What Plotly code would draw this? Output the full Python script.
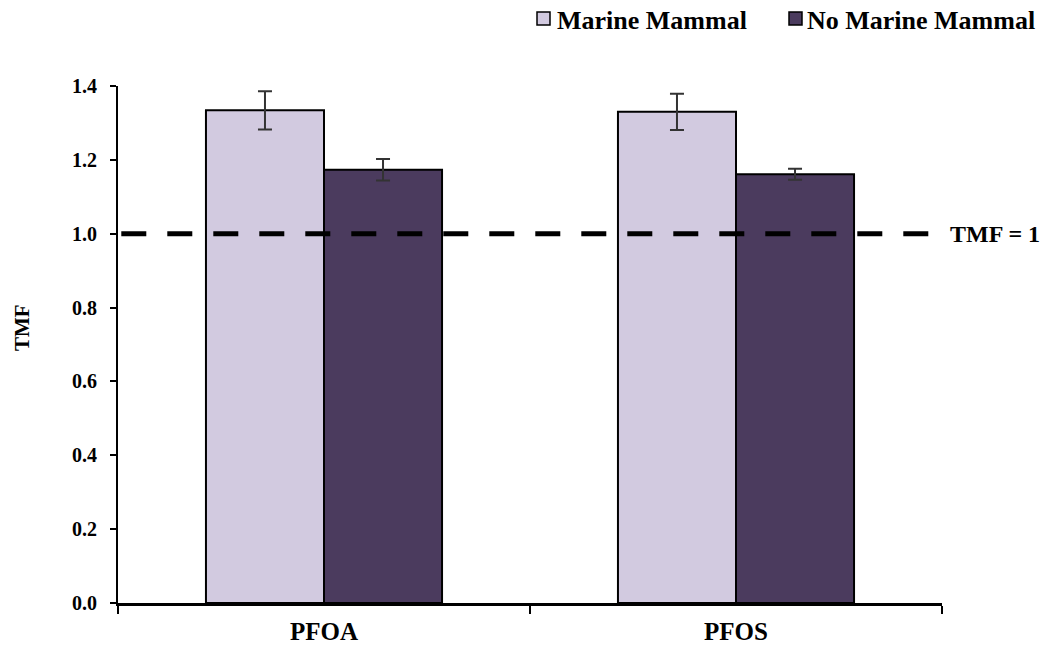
import plotly.graph_objects as go

# Data
compounds = ["PFOA", "PFOS"]
marine_mammal = [1.334, 1.330]
marine_mammal_err = [0.052, 0.049]
no_marine_mammal = [1.173, 1.161]
no_marine_mammal_err = [0.029, 0.015]
series_names = ["Marine Mammal", "No Marine Mammal"]
y_ticks = [0.0, 0.2, 0.4, 0.6, 0.8, 1.0, 1.2, 1.4]
reference_level = 1.0
reference_label = "TMF = 1"

LIGHT = "#D2CAE0"
DARK = "#4B3B5E"
FONT = "Liberation Serif"

W, H = 1051, 649
L, R, T, B = 118, 109, 86, 46
plot_w = W - L - R
plot_h = H - T - B


def px_x(px):
    return (px - L) / plot_w


def px_y(py):
    return (H - B - py) / plot_h


fig = go.Figure()
for name, vals, errs, color in [
    (series_names[0], marine_mammal, marine_mammal_err, LIGHT),
    (series_names[1], no_marine_mammal, no_marine_mammal_err, DARK),
]:
    fig.add_trace(go.Bar(
        name=name, x=compounds, y=vals,
        marker=dict(color=color, line=dict(color="black", width=2)),
        error_y=dict(type="data", array=errs, color="#333333", thickness=2, width=7),
        showlegend=False,
    ))

# Reference line at TMF = 1
fig.add_shape(type="line", xref="paper", yref="y", x0=0.004, x1=0.993,
              y0=reference_level, y1=reference_level,
              line=dict(color="black", width=5, dash="25px,21px"), layer="above")
fig.add_annotation(xref="paper", yref="y", x=px_x(948), y=reference_level,
                   text=f"<b>{reference_label}</b>", showarrow=False,
                   xanchor="left", yanchor="middle",
                   font=dict(family=FONT, size=24, color="black"))

# Axis title
fig.add_annotation(xref="paper", yref="paper", x=px_x(22), y=px_y(328),
                   text="<b>TMF</b>", showarrow=False, textangle=-90,
                   xanchor="center", yanchor="middle",
                   font=dict(family=FONT, size=21, color="black"))

# Legend: swatches and labels
legend_items = [(537, 555, series_names[0], LIGHT), (789, 805, series_names[1], DARK)]
for sq_x, txt_x, label, color in legend_items:
    fig.add_shape(type="rect", xref="paper", yref="paper",
                  x0=px_x(sq_x), x1=px_x(sq_x + 13), y0=px_y(12), y1=px_y(25),
                  fillcolor=color, line=dict(color="black", width=1.5))
    fig.add_annotation(xref="paper", yref="paper", x=px_x(txt_x), y=px_y(20),
                       text=f"<b>{label}</b>", showarrow=False,
                       xanchor="left", yanchor="middle",
                       font=dict(family=FONT, size=26, color="black"))

fig.update_layout(
    width=W, height=H,
    margin=dict(l=L, r=R, t=T, b=B),
    paper_bgcolor="white", plot_bgcolor="white",
    barmode="group", bargap=0.427, bargroupgap=0,
    font=dict(family=FONT, color="black"),
)
fig.update_xaxes(
    showline=True, linecolor="black", linewidth=2.5,
    ticks="outside", tickson="boundaries", ticklen=8, tickwidth=2, tickcolor="black",
    tickfont=dict(family=FONT, size=25, color="black"),
    tickprefix="<b>", ticksuffix="</b>", ticklabelstandoff=4,
    showgrid=False, automargin=False,
)
fig.update_yaxes(
    range=[0, 1.4], tickvals=y_ticks, ticktext=[f"<b>{v:.1f}</b>" for v in y_ticks],
    showline=True, linecolor="black", linewidth=2,
    ticks="outside", ticklen=6, tickwidth=2, tickcolor="black",
    tickfont=dict(family=FONT, size=20, color="black"), ticklabelstandoff=9,
    showgrid=False, zeroline=False, automargin=False,
)

fig.write_html("out.html")
